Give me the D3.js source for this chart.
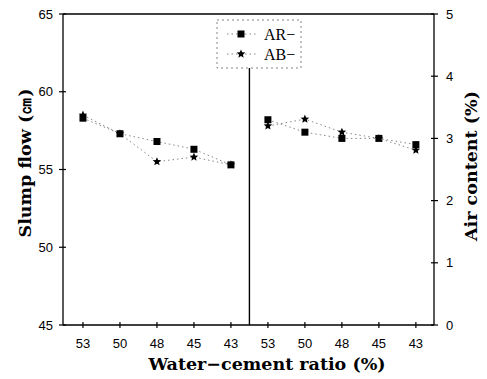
<!DOCTYPE html>
<html><head><meta charset="utf-8">
<script src="https://cdn.jsdelivr.net/npm/d3@7"></script>
<style>body{margin:0;background:#fff}svg{display:block}</style>
</head><body>
<script>
const ratios = ["53","50","48","45","43"];
const slumpAR = [58.3, 57.3, 56.8, 56.3, 55.3];
const slumpAB = [58.5, 57.3, 55.5, 55.8, 55.3];
const airAR = [3.3, 3.1, 3.0, 3.0, 2.9];
const airAB = [3.2, 3.31, 3.1, 3.0, 2.81];
const leftTicks = [45, 50, 55, 60, 65];
const rightTicks = [0, 1, 2, 3, 4, 5];
const seriesNames = ["AR\u2212", "AB\u2212"];

const W = 487, H = 379;
const svg = d3.select("body").append("svg").attr("width", W).attr("height", H);
const L = 63, R = 434, T = 14, B = 325;

const x = d3.scaleLinear().domain([-0.54, 9.49]).range([L, R]);
const yL = d3.scaleLinear().domain([45, 65]).range([B, T]);
const yR = d3.scaleLinear().domain([0, 5]).range([B, T]);

// frame
svg.append("line").attr("x1", L).attr("x2", R).attr("y1", T).attr("y2", T).attr("stroke", "#000").attr("stroke-width", 1.3);
svg.append("line").attr("x1", L).attr("x2", R).attr("y1", B).attr("y2", B).attr("stroke", "#000").attr("stroke-width", 1.3);
svg.append("line").attr("x1", L).attr("x2", L).attr("y1", T).attr("y2", B).attr("stroke", "#000").attr("stroke-width", 1.3);
svg.append("line").attr("x1", R).attr("x2", R).attr("y1", T).attr("y2", B).attr("stroke", "#000").attr("stroke-width", 1.3);

// divider
svg.append("line").attr("x1", x(4.5)).attr("x2", x(4.5)).attr("y1", 67).attr("y2", B).attr("stroke", "#000").attr("stroke-width", 1.4);

const tickFont = "'Liberation Sans', Arial, sans-serif";
leftTicks.forEach(v => {
  svg.append("line").attr("x1", L - 4).attr("x2", L + 3).attr("y1", yL(v)).attr("y2", yL(v)).attr("stroke", "#000").attr("stroke-width", 1.2);
  svg.append("text").attr("x", L - 10).attr("y", yL(v)).attr("dy", "0.36em").attr("text-anchor", "end")
    .style("font-family", tickFont).style("font-size", "13px").text(v);
});
rightTicks.forEach(v => {
  svg.append("line").attr("x1", R - 3).attr("x2", R + 4).attr("y1", yR(v)).attr("y2", yR(v)).attr("stroke", "#000").attr("stroke-width", 1.2);
  svg.append("text").attr("x", R + 12).attr("y", yR(v)).attr("dy", "0.36em").attr("text-anchor", "start")
    .style("font-family", tickFont).style("font-size", "13px").text(v);
});
d3.range(10).forEach(i => {
  const xv = x(i);
  svg.append("line").attr("x1", xv).attr("x2", xv).attr("y1", B - 3).attr("y2", B + 3).attr("stroke", "#000").attr("stroke-width", 1.2);
  svg.append("text").attr("x", xv).attr("y", B + 23).attr("text-anchor", "middle")
    .style("font-family", tickFont).style("font-size", "13px").text(ratios[i % 5]);
});

function star(cx, cy, r) {
  const pts = [];
  for (let k = 0; k < 10; k++) {
    const a = -Math.PI / 2 + k * Math.PI / 5;
    const rr = k % 2 ? r * 0.45 : r;
    pts.push([cx + rr * Math.cos(a), cy + rr * Math.sin(a)]);
  }
  return "M" + pts.map(p => p.join(",")).join("L") + "Z";
}
function drawSeries(vals, offset, yScale, type) {
  const pts = vals.map((v, i) => [x(i + offset), yScale(v)]);
  svg.append("path").attr("d", d3.line()(pts)).attr("fill", "none").attr("stroke", "#888")
    .attr("stroke-width", 1).attr("stroke-dasharray", "1.5,3");
  pts.forEach(p => {
    if (type === "sq") svg.append("rect").attr("x", p[0] - 3.5).attr("y", p[1] - 3.5).attr("width", 7).attr("height", 7).attr("fill", "#000");
    else svg.append("path").attr("d", star(p[0], p[1], 4.5)).attr("fill", "#000");
  });
}
drawSeries(slumpAR, 0, yL, "sq");
drawSeries(slumpAB, 0, yL, "st");
drawSeries(airAR, 5, yR, "sq");
drawSeries(airAB, 5, yR, "st");

// legend
const lg = svg.append("g");
lg.append("rect").attr("x", 217).attr("y", 20).attr("width", 84).attr("height", 48).attr("fill", "#fff")
  .attr("stroke", "#666").attr("stroke-width", 0.8).attr("stroke-dasharray", "2,3");
[["sq", 34], ["st", 54]].forEach((d, i) => {
  lg.append("line").attr("x1", 227).attr("x2", 256).attr("y1", d[1]).attr("y2", d[1]).attr("stroke", "#888").attr("stroke-dasharray", "1.5,3");
  if (d[0] === "sq") lg.append("rect").attr("x", 241 - 3.5).attr("y", d[1] - 3.5).attr("width", 7).attr("height", 7).attr("fill", "#000");
  else lg.append("path").attr("d", star(241, d[1], 4.5)).attr("fill", "#000");
  lg.append("text").attr("x", 264).attr("y", d[1]).attr("dy", "0.35em")
    .style("font-family", "'Liberation Serif', 'Times New Roman', serif").style("font-size", "16px").text(seriesNames[i]);
});

// axis titles
const titleFont = "'DejaVu Serif', 'Liberation Serif', serif";
svg.append("text").attr("transform", "translate(31,163) rotate(-90)").attr("text-anchor", "middle")
  .style("font-family", titleFont).style("font-weight", "bold").style("font-size", "17.5px").text("Slump flow (㎝)");
svg.append("text").attr("transform", "translate(477,166) rotate(-90)").attr("text-anchor", "middle")
  .style("font-family", titleFont).style("font-weight", "bold").style("font-size", "17.5px").text("Air content (%)");
svg.append("text").attr("x", 267).attr("y", 370).attr("text-anchor", "middle")
  .style("font-family", titleFont).style("font-weight", "bold").style("font-size", "17.5px").text("Water\u2212cement ratio (%)");
</script>
</body></html>
